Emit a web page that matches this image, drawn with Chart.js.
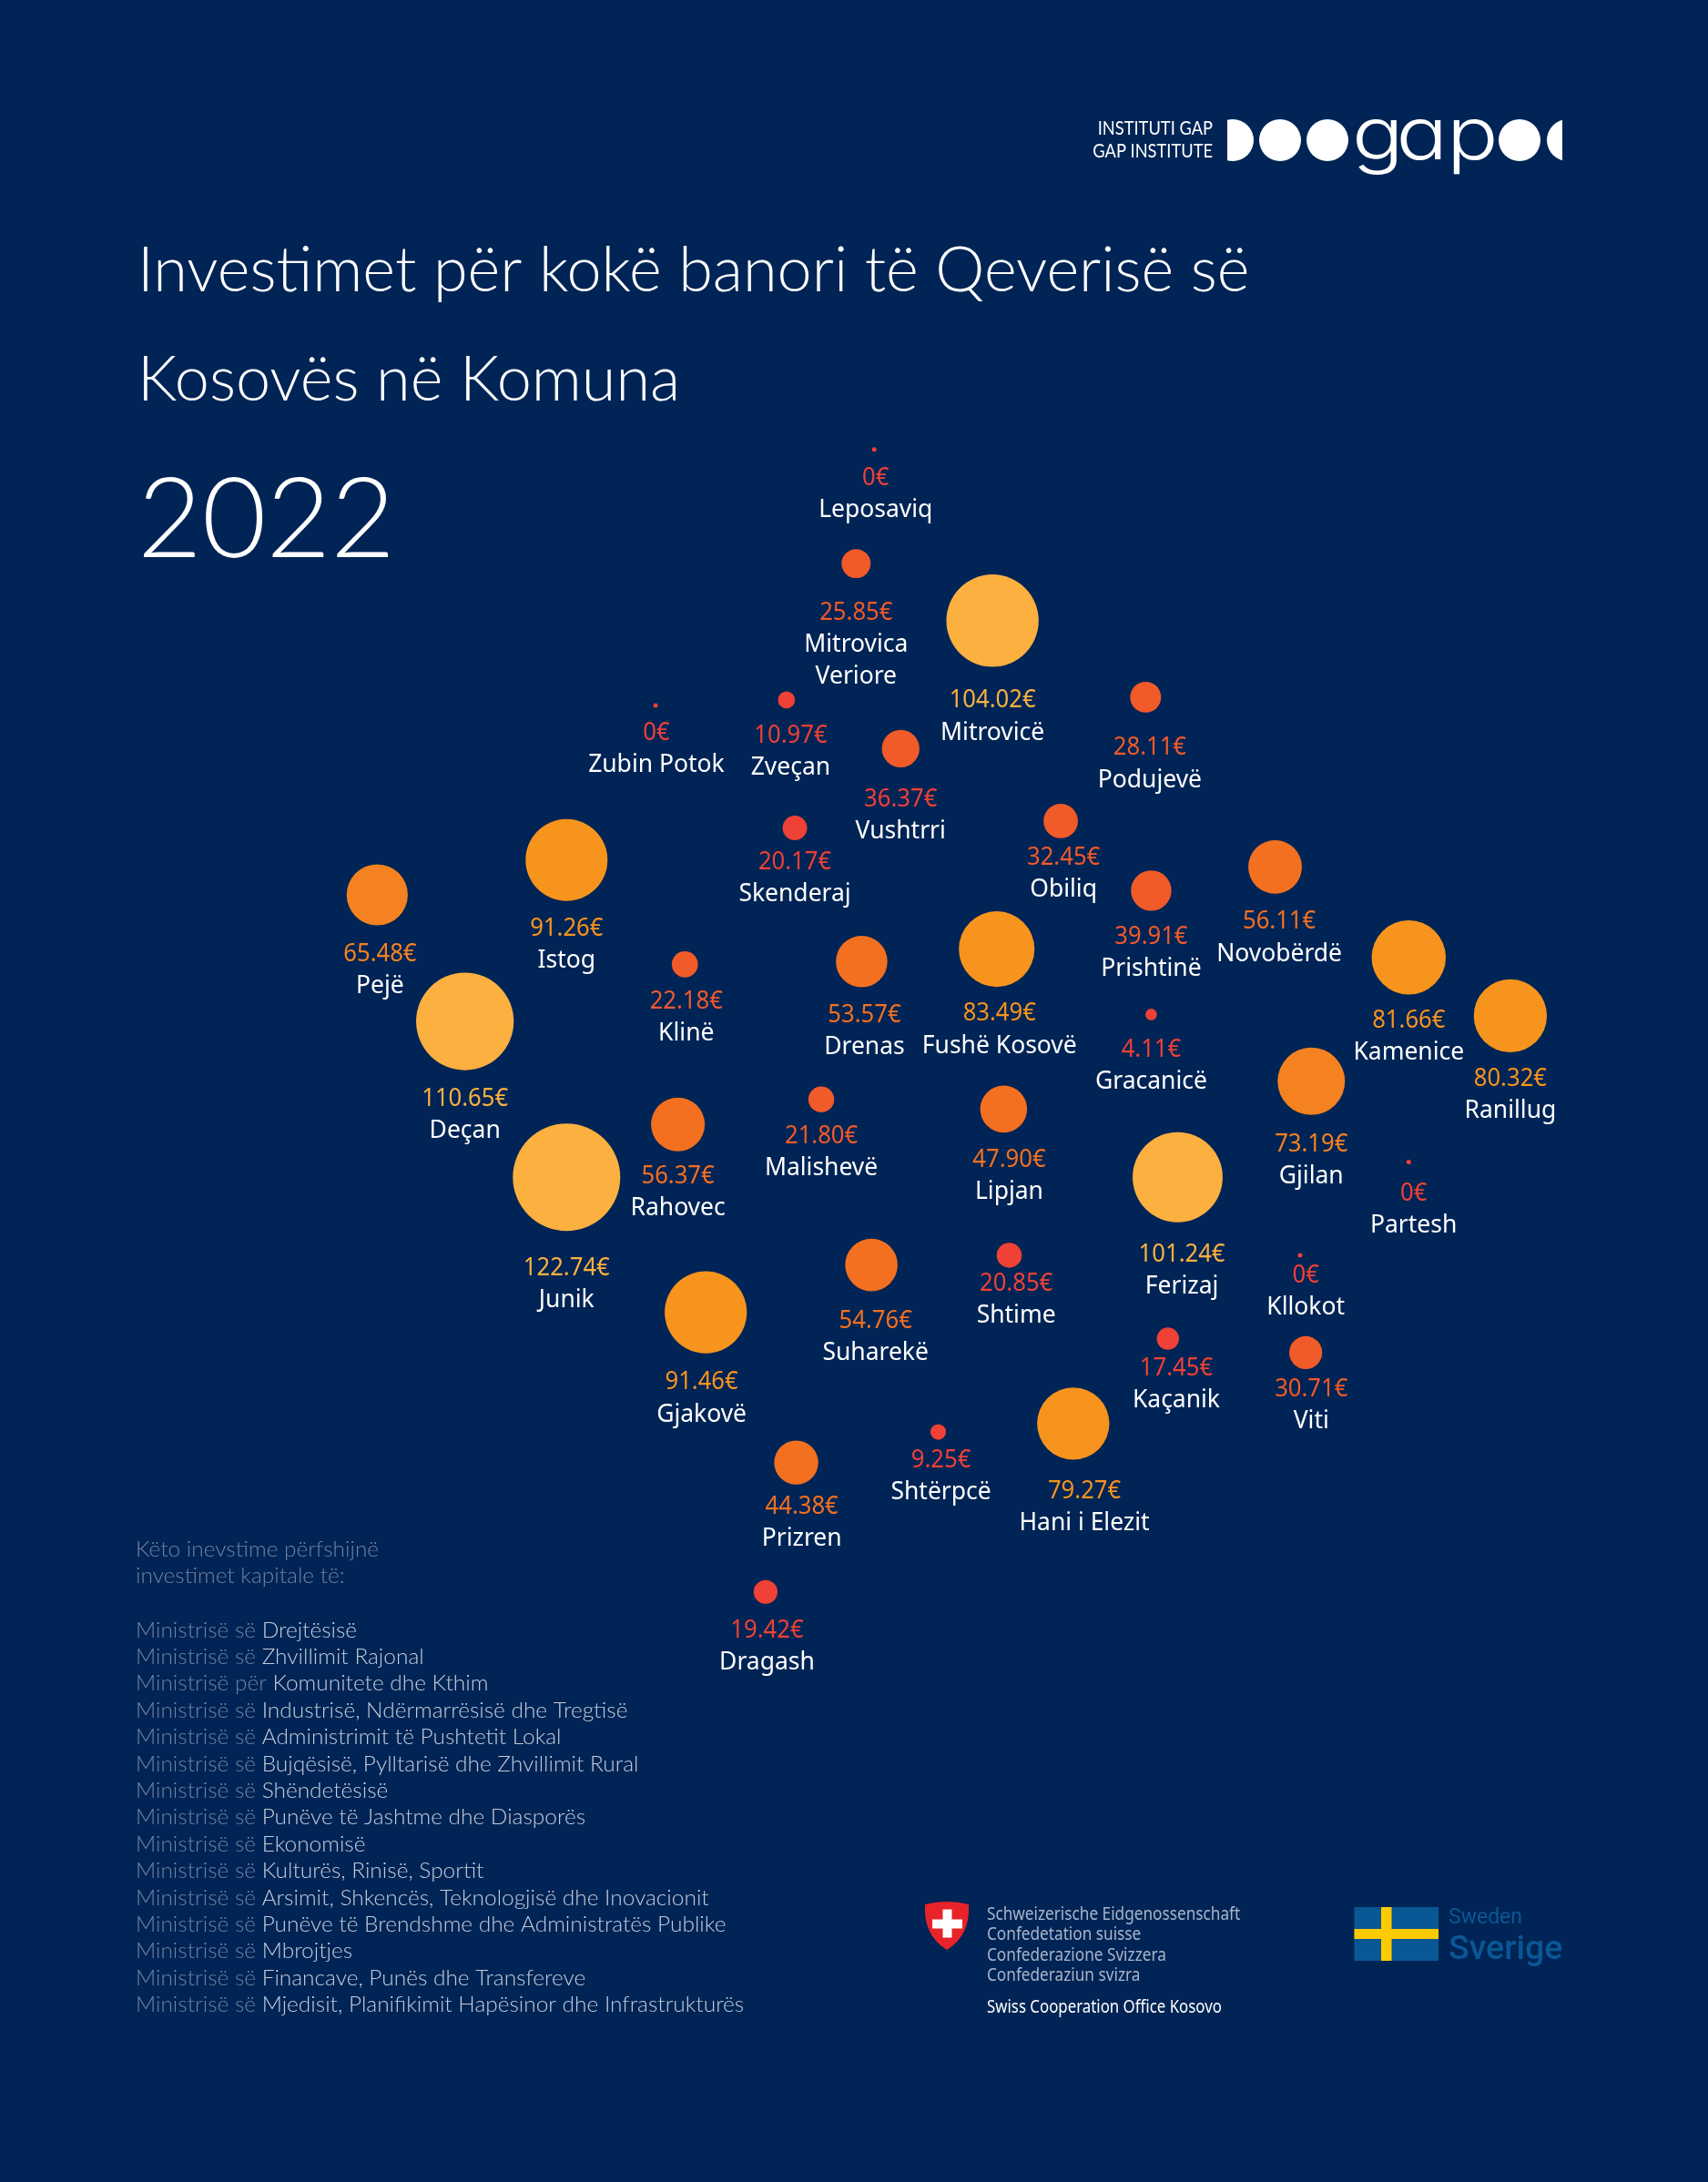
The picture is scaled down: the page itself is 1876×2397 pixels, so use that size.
<!DOCTYPE html>
<html lang="sq">
<head>
<meta charset="utf-8">
<title>Investimet për kokë banori</title>
<script src="https://cdn.jsdelivr.net/npm/chart.js@4"></script>
<style>
html,body{margin:0;padding:0;background:#002455;width:1876px;height:2397px;overflow:hidden}
#wrap{position:relative;width:1876px;height:2397px}
canvas{display:block;position:absolute;left:0;top:0}
#wordmark{position:absolute;left:1484.5px;top:95.5px;font:300 79px/100px Inter,sans-serif;font-feature-settings:"cv11" 1;color:#fff;white-space:pre;transform-origin:0 0;transform:scaleX(1.19)}
#wordmark .g{letter-spacing:-6.8px}
#wordmark .a{letter-spacing:-1px}
</style>
</head>
<body>
<div id="wrap"><canvas id="c" width="1876" height="2397"></canvas><span id="wordmark"><span class="g">g</span><span class="a">a</span>p</span></div>
<script>
const municipalities=["Leposaviq","Mitrovica\nVeriore","Mitrovicë","Zubin Potok","Zveçan","Podujevë","Vushtrri","Skenderaj","Obiliq","Istog","Pejë","Novobërdë","Prishtinë","Klinë","Drenas","Fushë Kosovë","Kamenice","Ranillug","Deçan","Gracanicë","Gjilan","Malishevë","Lipjan","Rahovec","Junik","Ferizaj","Partesh","Shtime","Suharekë","Kllokot","Gjakovë","Kaçanik","Viti","Shtërpcë","Hani i Elezit","Prizren","Dragash"];
const investment=[0,25.85,104.02,0,10.97,28.11,36.37,20.17,32.45,91.26,65.48,56.11,39.91,22.18,53.57,83.49,81.66,80.32,110.65,4.11,73.19,21.80,47.90,56.37,122.74,101.24,0,20.85,54.76,0,91.46,17.45,30.71,9.25,79.27,44.38,19.42];
const mapX=[628,615,713,471,565,823,647,571,762,407,271,916,827,492,619,716,1012,1085,334,827,942,590,721,487,407,846,1012,725,626,934,507,839,938,674,771,572,550];
const mapY=[323,405,446,507,503,501,538,595,590,618,643,623,640,693,691,682,688,730,734,729,777,790,797,808,846,846,835,902,909,902,943,962,972,1029,1023,1051,1144];
const labelX=[629,615,713,471.5,568,826,647,571,764,407,273,919,827,493,621,718,1012,1085,334,827,942,590,725,487,407,849,1015.5,730,629,938,504,845,942,676,779,576,551];
const valueY=[342,439,502,525,527,536,573,618,615,666,684,661,672,718,728,727,732,774,788,753,821,815,832,844,910,900,856,921,948,915,992,982,997,1048,1070,1081,1170];
const titleLines=["Investimet për kokë banori të Qeverisë së","Kosovës në Komuna"];
const titleYear="2022";
const noteIntro=["Këto inevstime përfshijnë","investimet kapitale të:"];
const notePrefix=["Ministrisë së ","Ministrisë së ","Ministrisë për ","Ministrisë së ","Ministrisë së ","Ministrisë së ","Ministrisë së ","Ministrisë së ","Ministrisë së ","Ministrisë së ","Ministrisë së ","Ministrisë së ","Ministrisë së ","Ministrisë së ","Ministrisë së "];
const noteMinistry=["Drejtësisë","Zhvillimit Rajonal","Komunitete dhe Kthim","Industrisë, Ndërmarrësisë dhe Tregtisë","Administrimit të Pushtetit Lokal","Bujqësisë, Pylltarisë dhe Zhvillimit Rural","Shëndetësisë","Punëve të Jashtme dhe Diasporës","Ekonomisë","Kulturës, Rinisë, Sportit","Arsimit, Shkencës, Teknologjisë dhe Inovacionit","Punëve të Brendshme dhe Administratës Publike","Mbrojtjes","Financave, Punës dhe Transfereve","Mjedisit, Planifikimit Hapësinor dhe Infrastrukturës"];
const swissLines=["Schweizerische Eidgenossenschaft","Confedetation suisse","Confederazione Svizzera","Confederaziun svizra"];

const BG="#002455";
function bandColor(v){
  if(v<21) return "#EF4136";
  if(v<44) return "#F15A29";
  if(v<60) return "#F37021";
  if(v<75) return "#F58220";
  if(v<95) return "#F7941D";
  return "#FBB040";
}
function radiusFor(v){ return v===0 ? 2.5 : 4.5+0.444*v; }

function put(ctx,text,x,y,font,color,align,sx){
  ctx.save();
  ctx.font=font; ctx.fillStyle=color; ctx.textBaseline="alphabetic"; ctx.textAlign=align||"left";
  ctx.translate(x,y); ctx.scale(sx||1,1);
  ctx.fillText(text,0,0);
  ctx.restore();
}
const LABEL='400 27px "Noto Sans"';
const LIGHT='300 24.45px Lato';

const page={
  id:"page",
  beforeDraw(chart){
    const ctx=chart.ctx;
    ctx.save();ctx.fillStyle=BG;ctx.fillRect(0,0,chart.width,chart.height);ctx.restore();
  },
  afterDatasetsDraw(chart){
    const ctx=chart.ctx, sx=chart.scales.x, sy=chart.scales.y;
    municipalities.forEach((name,i)=>{
      const x=sx.getPixelForValue(labelX[i]);
      const vy=sy.getPixelForValue(valueY[i]);
      const lh=sy.getPixelForValue(23)-sy.getPixelForValue(0);
      const v=investment[i];
      put(ctx,v.toFixed(2).replace(/\.00$/,"")+"€",x,vy+10,LABEL,v===36.37?"#EF4136":bandColor(v),"center",0.95);
      name.split("\n").forEach((part,k)=>put(ctx,part,x,vy+10+lh*(k+1),LABEL,"#ffffff","center",0.98));
    });
    titleLines.forEach((t,i)=>put(ctx,t,151,320+120*i,'300 68.4px Lato',"#ffffff"));
    put(ctx,titleYear,151,612,'300 122px Lato',"#ffffff");
    const NOTE1="#6F81A0",NOTE2="#C3CCDA";
    noteIntro.forEach((t,i)=>put(ctx,t,149,1710+29.4*i,LIGHT,NOTE1));
    noteMinistry.forEach((t,i)=>{
      const y=1798.5+29.4*i;
      put(ctx,notePrefix[i],149,y,LIGHT,NOTE1);
      ctx.font=LIGHT;
      put(ctx,t,149+ctx.measureText(notePrefix[i]).width,y,LIGHT,NOTE2);
    });
    put(ctx,"INSTITUTI GAP",1332,148,'400 21px Lato',"#fff","right",0.87);
    put(ctx,"GAP INSTITUTE",1332,172.5,'400 21px Lato',"#fff","right",0.87);
    ctx.save();ctx.fillStyle="#fff";
    [1406,1458,1669].forEach(cx=>{ctx.beginPath();ctx.arc(cx,154,23,0,Math.PI*2);ctx.fill();});
    ctx.save();ctx.beginPath();ctx.rect(1348,120,40,70);ctx.clip();ctx.beginPath();ctx.arc(1354,154,23,0,Math.PI*2);ctx.fill();ctx.restore();
    ctx.save();ctx.beginPath();ctx.rect(1690,120,26,70);ctx.clip();ctx.beginPath();ctx.arc(1722,154,23,0,Math.PI*2);ctx.fill();ctx.restore();
    ctx.restore();
    ctx.save();ctx.fillStyle="#E8232A";ctx.beginPath();
    ctx.moveTo(1016,2092);ctx.quadraticCurveTo(1040,2086,1064,2092);
    ctx.quadraticCurveTo(1066,2126,1040,2142);ctx.quadraticCurveTo(1014,2126,1016,2092);ctx.fill();
    ctx.fillStyle="#fff";ctx.fillRect(1024,2108.5,33,10);ctx.fillRect(1035.5,2097.5,10,31);ctx.restore();
    swissLines.forEach((t,i)=>put(ctx,t,1084,2109+22.4*i,'400 20px "Noto Sans"',"#A9B5C9","left",0.86));
    put(ctx,"Swiss Cooperation Office Kosovo",1084,2211,'400 19px "Noto Sans"',"#fff","left",0.886);
    ctx.save();ctx.fillStyle="#0A5795";ctx.fillRect(1487.5,2095,92.5,59);
    ctx.fillStyle="#FECB00";ctx.fillRect(1517,2095,11.5,59);ctx.fillRect(1487.5,2119,92.5,11);ctx.restore();
    put(ctx,"Sweden",1591,2113,'400 23px Roboto',"#0A5795");
    put(ctx,"Sverige",1591,2152,'500 37.5px Roboto',"#0A5795");
  }
};

new Chart(document.getElementById("c"),{
  type:"bubble",
  data:{datasets:[{
    label:"Investimet për kokë banori (€)",
    data:municipalities.map((m,i)=>({x:mapX[i],y:mapY[i],r:radiusFor(investment[i])})),
    backgroundColor:investment.map(bandColor),
    borderWidth:0
  }]},
  options:{
    responsive:false,animation:false,
    layout:{padding:0,autoPadding:false},
    plugins:{legend:{display:false},tooltip:{enabled:false}},
    scales:{
      x:{type:"linear",min:0,max:1227,display:false},
      y:{type:"linear",min:0,max:1568,reverse:true,display:false}
    }
  },
  plugins:[page]
});
</script>
</body>
</html>
